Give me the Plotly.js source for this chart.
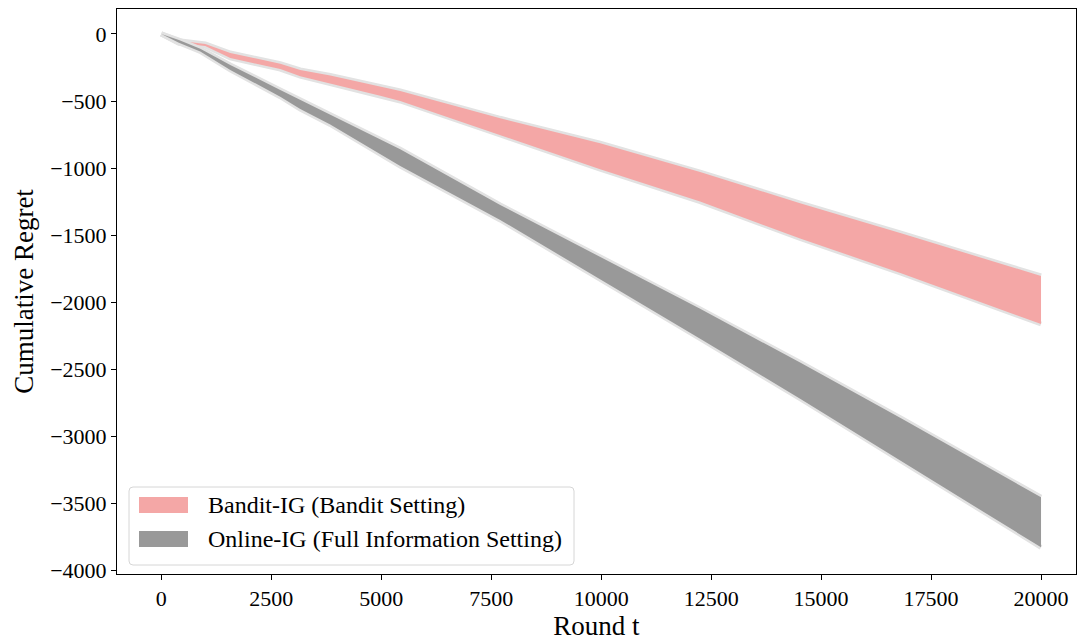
<!DOCTYPE html>
<html>
<head>
<meta charset="utf-8">
<script src="https://cdn.plot.ly/plotly-3.0.1.min.js"></script>
<style>html,body{margin:0;padding:0;background:#fff;}#chart{width:1078px;height:642px;}</style>
</head>
<body>
<div id="chart"></div>
<script>
// Bandit-IG (Bandit Setting)
const banditRounds = [0, 400, 1000, 1568, 2705, 3159, 3841, 4977, 5432, 7705, 9977, 12250, 14523, 16818, 20000];
const banditUpper  = [0, -50, -75, -142, -222, -268, -310, -390, -425, -629, -815, -1030, -1262, -1486, -1805];
const banditLower  = [0, -70, -90, -179, -262, -315, -370, -460, -500, -753, -1008, -1250, -1525, -1784, -2163];

// Online-IG (Full Information Setting)
const onlineRounds = [0, 400, 886, 1568, 2705, 3159, 3841, 5432, 7705, 9977, 12250, 14523, 16818, 20000];
const onlineUpper  = [0, -45, -110, -231, -418, -492, -605, -860, -1275, -1661, -2050, -2450, -2865, -3455];
const onlineLower  = [0, -65, -130, -268, -468, -560, -675, -985, -1387, -1827, -2272, -2720, -3185, -3828];

const seriesNames = ['Bandit-IG (Bandit Setting)', 'Online-IG (Full Information Setting)'];
const seriesColors = ['#f4a7a6', '#999999'];
const xTicks = [0, 2500, 5000, 7500, 10000, 12500, 15000, 17500, 20000];
const yTicks = [0, -500, -1000, -1500, -2000, -2500, -3000, -3500, -4000];

const FONT = 'Liberation Serif, Times New Roman, serif';
const EDGE = '#e2e2e2';

function band(xs, up, lo, color, name) {
  const polyX = xs.concat(xs.slice().reverse());
  const polyY = up.concat(lo.slice().reverse());
  return [
    {x: xs, y: up, mode: 'lines', line: {color: EDGE, width: 5}, showlegend: false, hoverinfo: 'skip'},
    {x: xs, y: lo, mode: 'lines', line: {color: EDGE, width: 5}, showlegend: false, hoverinfo: 'skip'},
    {x: polyX, y: polyY, mode: 'lines', fill: 'toself', fillcolor: color, line: {width: 0, color: color}, name: name, showlegend: false}
  ];
}

const data = []
  .concat(band(banditRounds, banditUpper, banditLower, seriesColors[0], seriesNames[0]))
  .concat(band(onlineRounds, onlineUpper, onlineLower, seriesColors[1], seriesNames[1]));

// Legend (drawn in paper coordinates, plot area 959 x 565 px)
const PW = 959, PH = 565;
const px = v => (v - 117) / PW;         // pixel x -> paper
const py = v => (574 - v) / PH;         // pixel y -> paper
function roundedRect(x0, y0, x1, y1, r) {
  const rx = r / PW, ry = r / PH;
  const X0 = px(x0), X1 = px(x1), Y0 = py(y1), Y1 = py(y0);
  return `M${X0 + rx},${Y0} L${X1 - rx},${Y0} Q${X1},${Y0} ${X1},${Y0 + ry} L${X1},${Y1 - ry} Q${X1},${Y1} ${X1 - rx},${Y1} L${X0 + rx},${Y1} Q${X0},${Y1} ${X0},${Y1 - ry} L${X0},${Y0 + ry} Q${X0},${Y0} ${X0 + rx},${Y0} Z`;
}
const legendRows = [505, 539];
const shapes = [
  {type: 'path', xref: 'paper', yref: 'paper', path: roundedRect(129, 487, 574, 565, 4),
   fillcolor: 'rgba(255,255,255,0.8)', line: {color: '#d6d6d6', width: 1}, layer: 'above'}
];
const annotations = [];
seriesNames.forEach((n, i) => {
  const cy = legendRows[i];
  shapes.push({type: 'rect', xref: 'paper', yref: 'paper', x0: px(139), x1: px(188), y0: py(cy + 8), y1: py(cy - 8),
    fillcolor: seriesColors[i], line: {width: 0}, layer: 'above'});
  annotations.push({xref: 'paper', yref: 'paper', x: px(206), y: py(cy), xanchor: 'left', yanchor: 'middle',
    text: n, showarrow: false, font: {family: FONT, size: 24, color: '#000'}});
});

const layout = {
  width: 1078, height: 642,
  margin: {l: 117, r: 2, t: 9, b: 68},
  paper_bgcolor: '#fff', plot_bgcolor: '#fff',
  font: {family: FONT, color: '#000', size: 22},
  showlegend: false,
  shapes: shapes,
  annotations: annotations,
  xaxis: {
    range: [-1007, 20795],
    tickvals: xTicks, ticktext: xTicks.map(String),
    ticks: 'outside', ticklen: 5, tickwidth: 1, tickcolor: '#000',
    showline: true, linecolor: '#000', linewidth: 1, mirror: true,
    showgrid: false, zeroline: false,
    tickfont: {family: FONT, size: 22},
    title: {text: 'Round t', font: {family: FONT, size: 27}, standoff: 4}
  },
  yaxis: {
    range: [-4027, 186],
    tickvals: yTicks, ticktext: yTicks.map(v => v < 0 ? '\u2212' + Math.abs(v) : String(v)),
    ticks: 'outside', ticklen: 5, tickwidth: 1, tickcolor: '#000',
    showline: true, linecolor: '#000', linewidth: 1, mirror: true,
    showgrid: false, zeroline: false,
    tickfont: {family: FONT, size: 22},
    title: {text: 'Cumulative Regret', font: {family: FONT, size: 27}, standoff: 8}
  }
};

Plotly.newPlot('chart', data, layout, {displayModeBar: false, staticPlot: true});
</script>
</body>
</html>
